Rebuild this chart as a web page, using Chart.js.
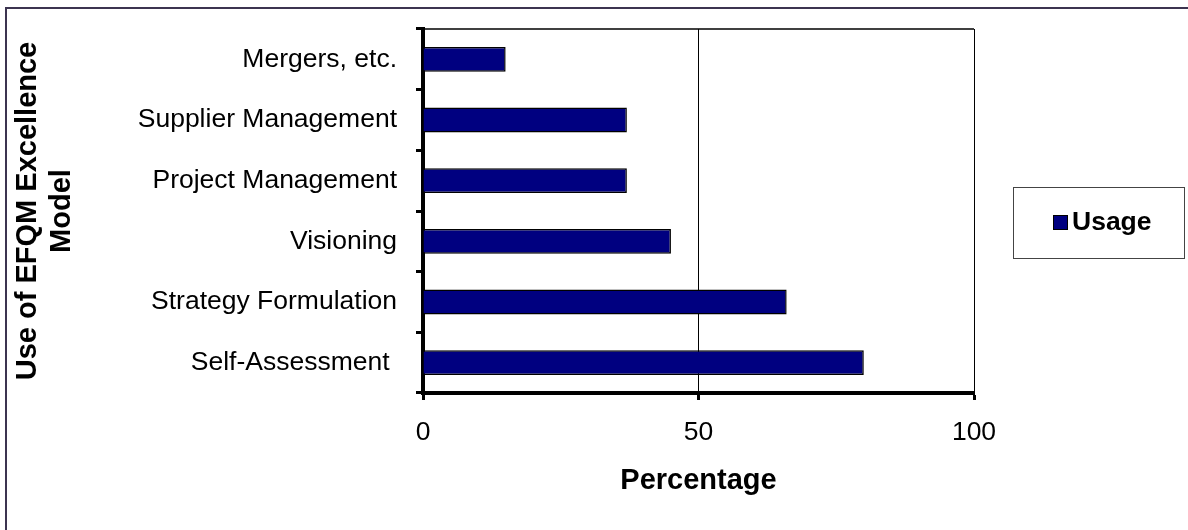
<!DOCTYPE html>
<html>
<head>
<meta charset="utf-8">
<script src="https://cdn.jsdelivr.net/npm/chart.js@4.4.1/dist/chart.umd.min.js"></script>
<style>
  html, body { margin: 0; padding: 0; background: #fff; }
  #wrap { position: relative; width: 1188px; height: 530px; overflow: hidden; }
  #frame { position: absolute; left: 5px; top: 7px; width: 1181px; height: 530px;
           border: 2px solid #3c3450; border-bottom: none; pointer-events: none; }
</style>
</head>
<body>
<div id="wrap">
  <canvas id="efqm_chart" width="1188" height="530"></canvas>
  <div id="frame"></div>
</div>
<script>
// values (percent)
let categories = ["Mergers, etc.", "Supplier Management", "Project Management", "Visioning", "Strategy Formulation", "Self-Assessment "];
let usage = [15, 37, 37, 45, 66, 80];
let xTicks = [0, 50, 100];
let seriesName = "Usage";
let yTitle = ["Use of EFQM Excellence", "Model"];
let xTitle = "Percentage";

let navy = "#000080";

// thin top border of the plot box
let plotFrame = {
    id: "plotFrame",
    beforeDatasetsDraw(chart) {
        let ctx = chart.ctx;
        let a = chart.chartArea;
        ctx.save();
        ctx.strokeStyle = "#000";
        ctx.lineWidth = 1.5;
        ctx.beginPath();
        ctx.moveTo(a.left, a.top);
        ctx.lineTo(a.right, a.top);
        ctx.stroke();
        ctx.restore();
    }
};

// boxed legend on the right, like the old excel one
let boxLegend = {
    id: "boxLegend",
    afterDraw(chart) {
        let ctx = chart.ctx;
        let ds = chart.data.datasets[0];
        ctx.save();
        ctx.strokeStyle = "#444";
        ctx.lineWidth = 1;
        ctx.strokeRect(1013.5, 187.5, 171, 71);
        ctx.fillStyle = ds.backgroundColor;
        ctx.fillRect(1053, 215, 15, 15);
        ctx.strokeStyle = "#000";
        ctx.strokeRect(1053.5, 215.5, 14, 14);
        ctx.fillStyle = "#000";
        ctx.font = "bold 26.5px 'Liberation Sans', Arial, sans-serif";
        ctx.textBaseline = "middle";
        ctx.textAlign = "left";
        ctx.fillText(ds.label, 1072, 223);
        ctx.restore();
    }
};

let font = "'Liberation Sans', Arial, sans-serif";

var myChart = new Chart("efqm_chart", {
    type: "bar",
    data: {
        labels: categories,
        datasets: [{
            label: seriesName,
            data: usage,
            backgroundColor: navy,
            borderColor: "#000",
            borderWidth: 1.5,
            barPercentage: 0.41,
            categoryPercentage: 1
        }]
    },
    options: {
        indexAxis: "y",
        responsive: false,
        animation: false,
        devicePixelRatio: 1,
        layout: { padding: { left: 0, right: 214, top: 29, bottom: 0 } },
        plugins: {
            legend: { display: false },
            tooltip: { enabled: false }
        },
        scales: {
            x: {
                min: 0,
                max: 100,
                afterBuildTicks: (scale) => { scale.ticks = xTicks.map(v => ({ value: v })); },
                afterFit: (scale) => { scale.height = 137; },
                ticks: {
                    color: "#000",
                    padding: 17,
                    font: { family: font, size: 26.5 }
                },
                grid: {
                    color: "#000",
                    lineWidth: 1,
                    tickLength: 7,
                    tickWidth: 3,
                    tickColor: "#000"
                },
                border: { color: "#000", width: 4 },
                title: {
                    display: true,
                    text: xTitle,
                    color: "#000",
                    padding: { top: 0, bottom: 32 },
                    font: { family: font, size: 29, weight: "bold" }
                }
            },
            y: {
                afterFit: (scale) => {
                    scale.width = 423;
                    // labels sit mid-band, no extra room needed above/below
                    scale.paddingTop = 0;
                    scale.paddingBottom = 0;
                },
                ticks: {
                    color: "#000",
                    padding: 19,
                    font: { family: font, size: 26.5 }
                },
                grid: {
                    drawOnChartArea: false,
                    tickLength: 7,
                    tickWidth: 3,
                    tickColor: "#000"
                },
                border: { color: "#000", width: 4 },
                title: {
                    display: true,
                    text: yTitle,
                    color: "#000",
                    padding: { top: 11, bottom: 0 },
                    font: { family: font, size: 29, weight: "bold", lineHeight: 1.17 }
                }
            }
        }
    },
    plugins: [plotFrame, boxLegend]
});
</script>
</body>
</html>
